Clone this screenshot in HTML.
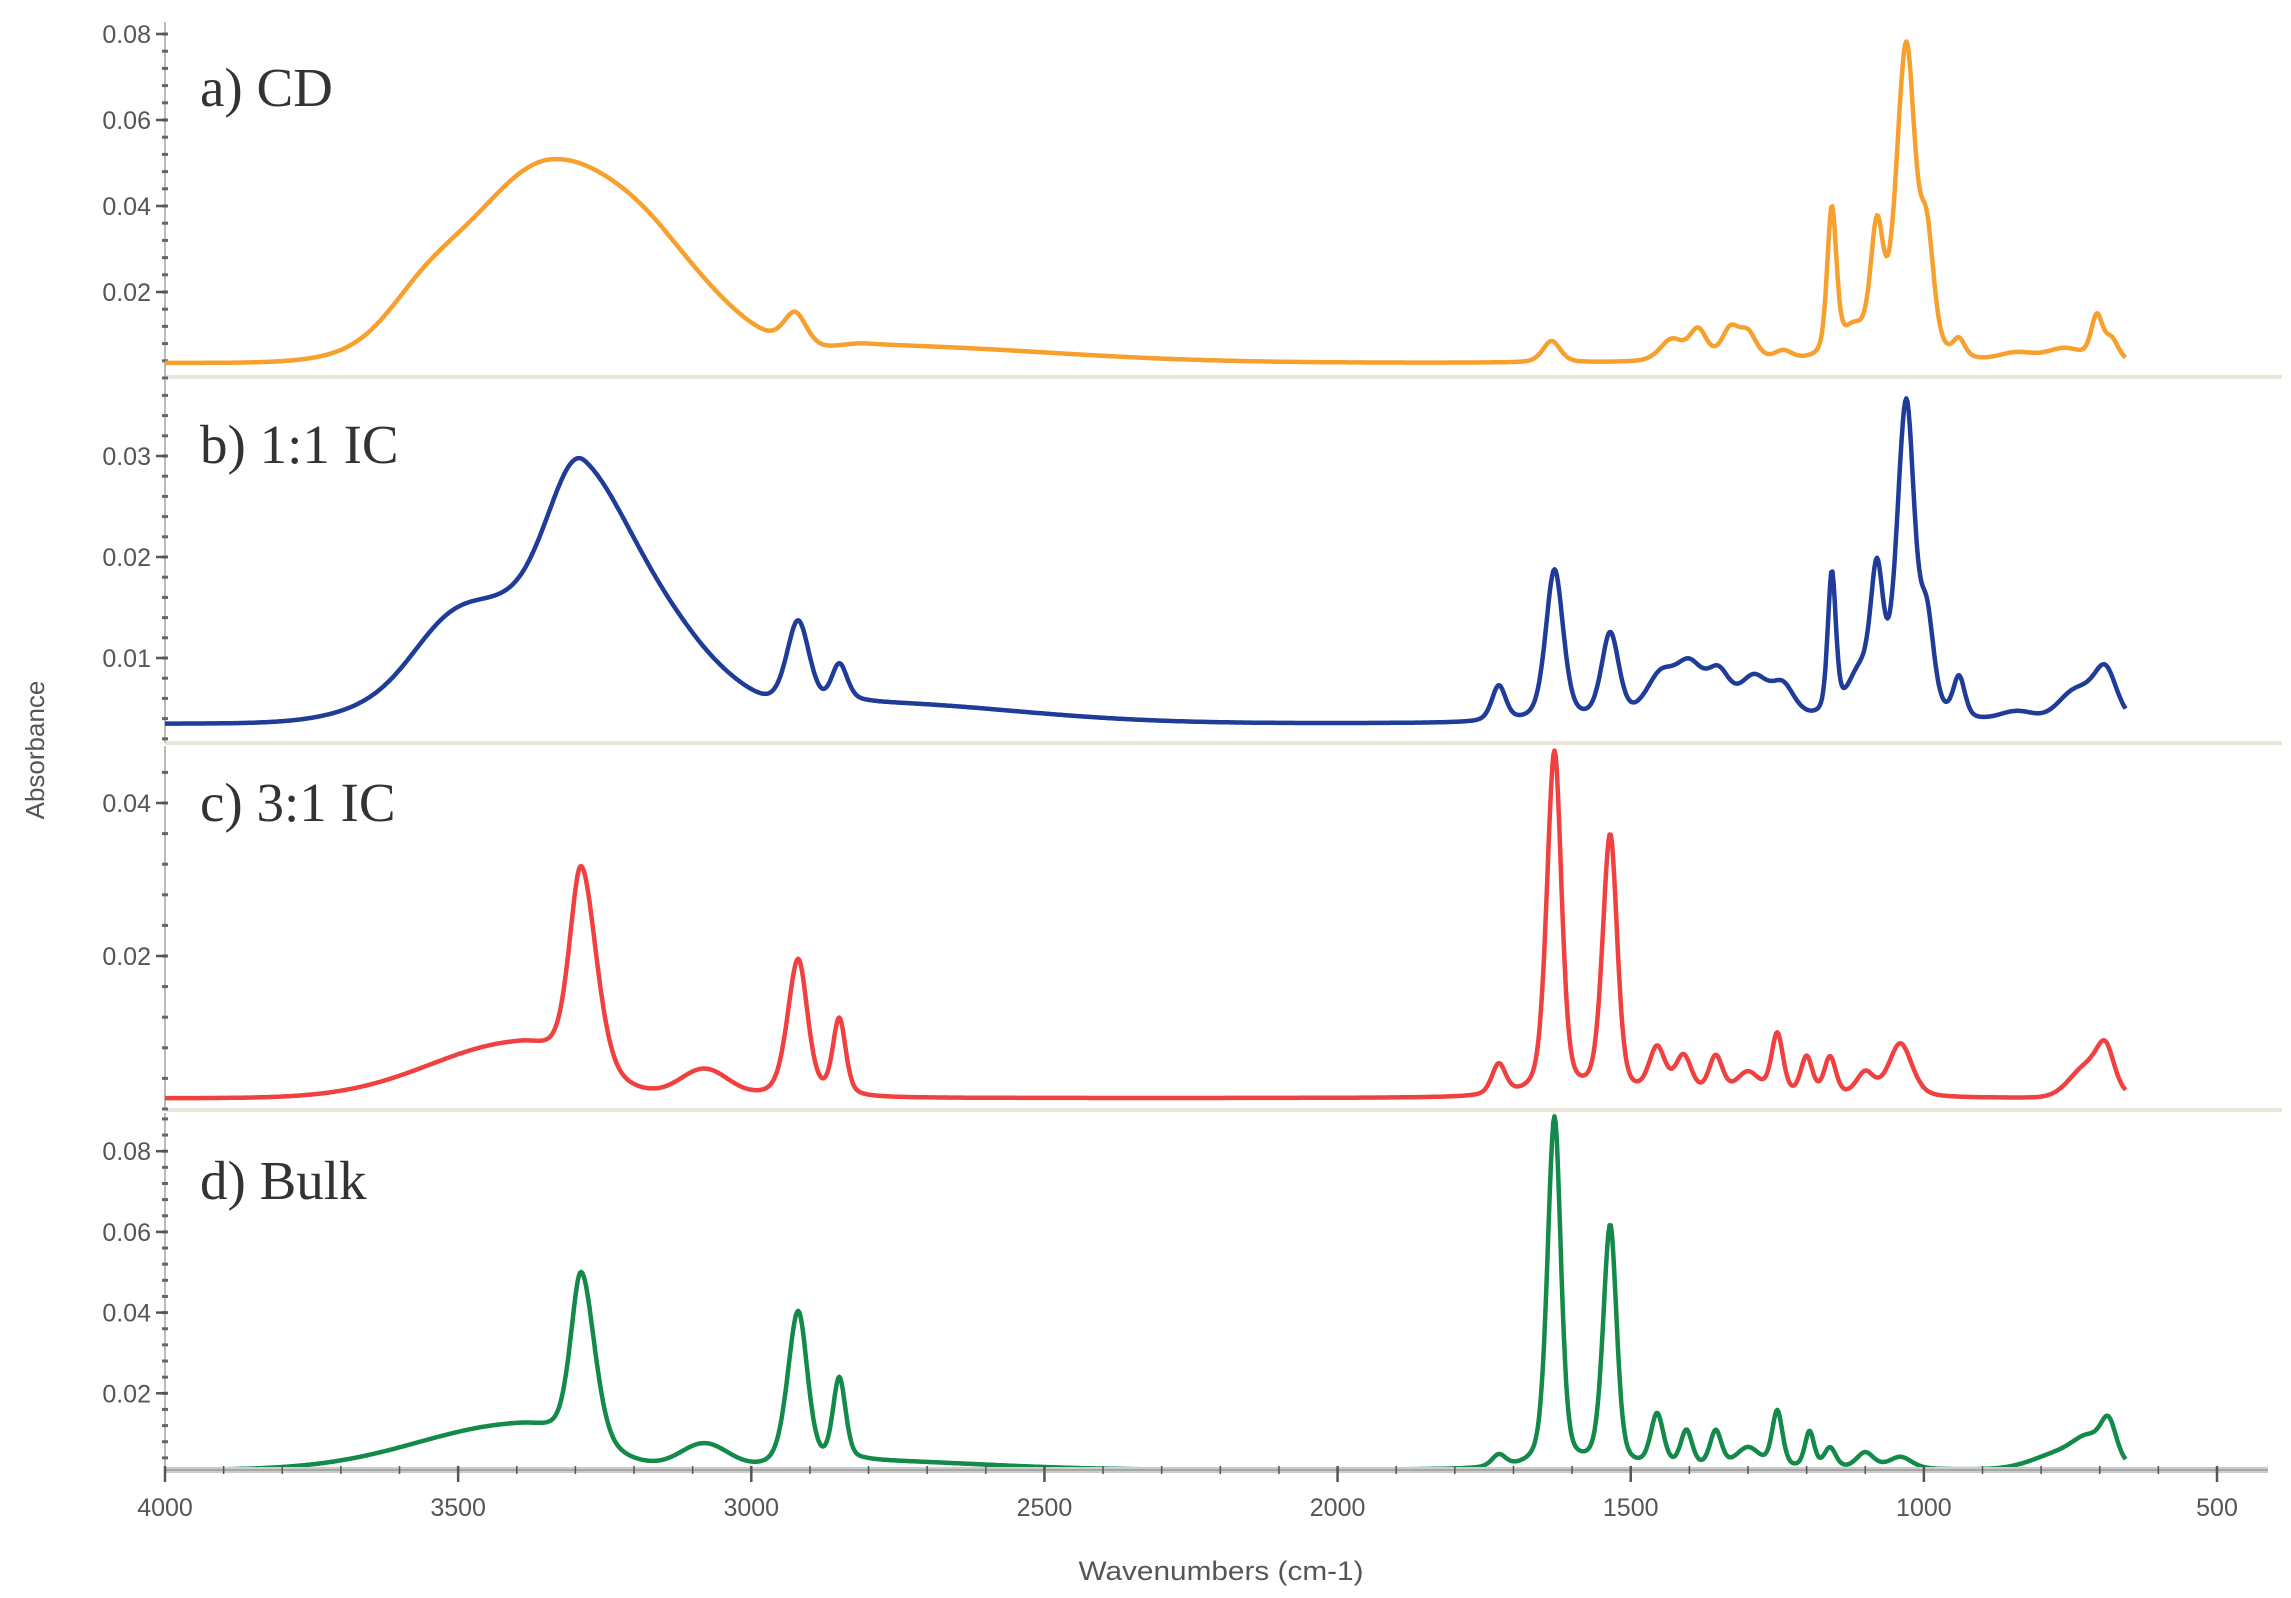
<!DOCTYPE html>
<html><head><meta charset="utf-8">
<style>
html,body{margin:0;padding:0;background:#fff;}
svg{display:block;}
.tl{font-family:"Liberation Sans",sans-serif;font-size:25px;fill:#555;}
.lab{font-family:"Liberation Serif",serif;font-size:55px;fill:#333;}
</style></head>
<body>
<svg id="s" width="2291" height="1598" xmlns="http://www.w3.org/2000/svg">
<rect width="2291" height="1598" fill="#fff"/>
<g id="g"></g>
<text class="lab" x="200" y="106">a) CD</text>
<text class="lab" x="200" y="463">b) 1:1 IC</text>
<text class="lab" x="200" y="821">c) 3:1 IC</text>
<text class="lab" x="200" y="1199">d) Bulk</text>
<text class="tl" transform="translate(44,750) rotate(-90)" text-anchor="middle" style="font-size:26px">Absorbance</text>
<text class="tl" x="1221" y="1580" text-anchor="middle" style="font-size:27px" textLength="285" lengthAdjust="spacingAndGlyphs">Wavenumbers (cm-1)</text>
</svg>
<script>
var NS="http://www.w3.org/2000/svg",G=document.getElementById('g');
function el(t,a,txt){var e=document.createElementNS(NS,t);for(var k in a)e.setAttribute(k,a[k]);if(txt!==undefined)e.textContent=txt;G.appendChild(e);return e;}
function X(w){return 165+(4000-w)*0.58629;}
var AX=165;
[377,743,1110].forEach(function(y){el('line',{x1:AX,y1:y,x2:2282,y2:y,stroke:'#ebe6da','stroke-width':4});});
var P=[
 {z:378,k:4300,t:[0.02,0.04,0.06,0.08],top:22,bot:377,c:'#f7a02e',
  base:0.0035,pk:[[3340,0.047,150,170],[3560,0.006,60,60],[3150,0.006,80,120],[2925,0.008,20,20],[2800,0.004,60,300],[1635,0.005,15,15],[1430,0.005,20,20],[1385,0.007,15,15],[1330,0.007,15,15],[1300,0.006,15,15],[1240,0.002,15,15],[1157,0.034,8,8],[1080,0.028,11,11],[1030,0.072,17,15],[995,0.026,12,12],[1120,0.006,20,20],[940,0.004,10,10],[840,0.002,30,30],[760,0.003,30,30],[705,0.010,10,10],[680,0.005,12,12]]},
 {z:759,k:10100,t:[0.01,0.02,0.03],top:380,bot:743,c:'#1e3c98',
  base:0.0035,pk:[[3285,0.017,55,110],[3380,0.012,150,120],[3520,0.003,60,60],[3100,0.004,80,100],[2920,0.009,20,20],[2850,0.004,14,14],[2800,0.002,60,250],[1725,0.0035,12,12],[1630,0.015,15,15],[1535,0.0085,15,15],[1450,0.004,25,25],[1400,0.005,25,25],[1350,0.004,20,20],[1290,0.004,25,25],[1240,0.003,20,20],[1157,0.014,7,7],[1080,0.013,11,11],[1030,0.031,16,14],[995,0.009,12,12],[1110,0.004,20,20],[940,0.004,10,10],[840,0.001,30,30],[740,0.003,30,30],[690,0.005,20,20]]},
 {z:1109,k:7650,t:[0.02,0.04],top:746,bot:1110,c:'#f0403f',
  base:0.0014,pk:[[3290,0.027,20,26],[3400,0.007,150,90],[3080,0.0035,40,40],[2920,0.018,18,16],[2850,0.010,11,11],[1725,0.004,12,12],[1630,0.045,13,12],[1535,0.034,13,12],[1455,0.006,14,14],[1410,0.005,14,14],[1355,0.005,12,12],[1300,0.003,20,20],[1250,0.008,10,10],[1200,0.005,10,10],[1160,0.005,10,10],[1100,0.003,15,15],[1040,0.007,20,20],[720,0.004,30,30],[690,0.005,15,15]]},
 {z:1474,k:4035,t:[0.02,0.04,0.06,0.08],top:1113,bot:1470,c:'#13894a',
  base:0.001,pk:[[3290,0.043,18,23],[3400,0.011,170,100],[3080,0.006,40,40],[2920,0.039,18,16],[2850,0.021,11,11],[2800,0.002,40,200],[1725,0.003,12,12],[1630,0.087,12,11],[1535,0.060,12,11],[1455,0.013,11,11],[1405,0.009,10,10],[1355,0.009,10,10],[1300,0.005,20,20],[1250,0.014,9,9],[1195,0.009,8,8],[1160,0.005,10,10],[1100,0.004,15,15],[1040,0.003,20,20],[760,0.004,50,50],[720,0.005,25,25],[685,0.010,14,14]]}
];
function val(p,w){var v=p.base;p.pk.forEach(function(q){var s=w>q[0]?q[2]:q[3];var d=(w-q[0])/s;
 if(s<30){var g=Math.exp(-0.5*d*d),l=1/(1+d*d*0.7);v+=q[1]*(0.6*g+0.4*l);}
 else v+=q[1]*Math.exp(-0.5*d*d);});return v;}
P.forEach(function(p){
 el('line',{x1:AX,y1:p.top,x2:AX,y2:p.bot,stroke:'#bbb','stroke-width':2});
 var step=(p.t[1]-p.t[0])*p.k/5;
 for(var y=p.z;y>p.top;y-=step){ if(y<p.bot+2) el('line',{x1:AX-3,y1:y,x2:AX+3,y2:y,stroke:'#666','stroke-width':3});}
 p.t.forEach(function(t){var y=p.z-t*p.k;
  el('line',{x1:AX-9,y1:y,x2:AX+2,y2:y,stroke:'#555','stroke-width':2.5});
  el('text',{class:'tl',x:151,y:y+9,'text-anchor':'end'},String(t).padEnd(4,'0'));
 });
 var d='';for(var w=4000;w>=655;w-=2){var y=p.z-val(p,w)*p.k;d+=(w==4000?'M':'L')+X(w).toFixed(1)+','+y.toFixed(1);}
 el('path',{d:d,fill:'none',stroke:p.c,'stroke-width':4.5,'stroke-linejoin':'round'});
});
el('line',{x1:AX,y1:1470,x2:2268,y2:1470,stroke:'#ccc','stroke-width':6});
el('line',{x1:AX,y1:1470,x2:2268,y2:1470,stroke:'#999','stroke-width':1.5});
for(var w=4000;w>=500;w-=100){var x=X(w),maj=w%500==0;
 el('line',{x1:x,y1:1466,x2:x,y2:maj?1482:1474,stroke:'#555','stroke-width':maj?2.5:1.5});
 if(maj) el('text',{class:'tl',x:x,y:1516,'text-anchor':'middle'},String(w));}
</script>
</body></html>
